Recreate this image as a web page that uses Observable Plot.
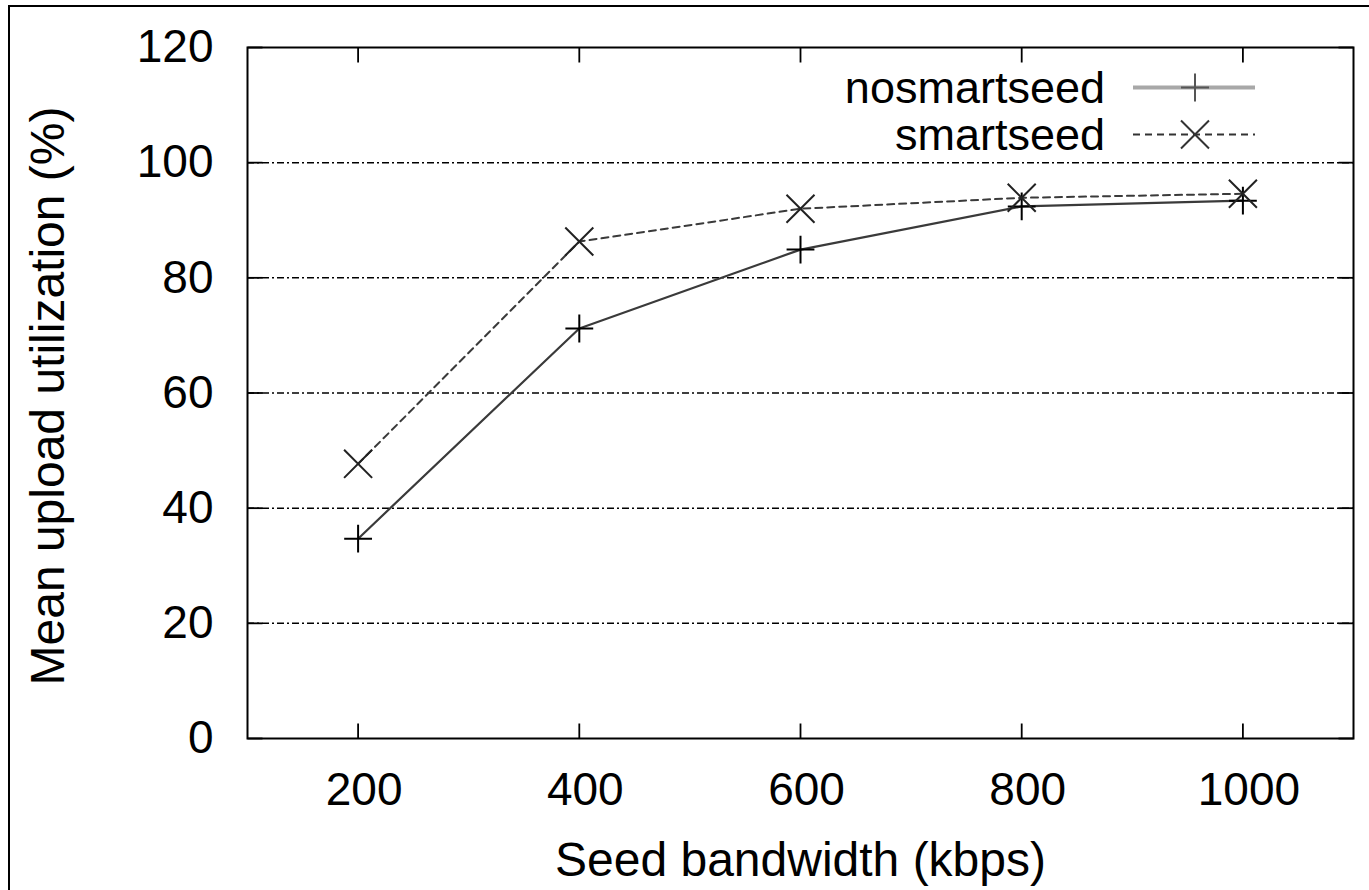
<!DOCTYPE html>
<html><head><meta charset="utf-8">
<script src="https://cdn.jsdelivr.net/npm/d3@7"></script>
<script src="https://cdn.jsdelivr.net/npm/@observablehq/plot@0.6"></script>
<style>
body{margin:0;background:#fff;}
#wrap{position:relative;width:1369px;height:890px;overflow:hidden;font-family:"Liberation Sans",Arial,sans-serif;}
#chart{position:absolute;left:0;top:0;}
#border{position:absolute;left:8px;top:5px;width:1400px;height:900px;border-left:2.5px solid #000;border-top:2.5px solid #000;pointer-events:none;}
#legend{position:absolute;left:700px;top:64px;}
.row{display:flex;align-items:center;height:47px;}
.row span{display:inline-block;width:405px;text-align:right;font-size:45px;line-height:46px;color:#000;}
.row svg{margin-left:28px;}
</style></head>
<body><div id="wrap"><div id="chart"></div><div id="border"></div><div id="legend"></div></div>
<script>
const bandwidth = [200, 400, 600, 800, 1000];
const nosmartseed = [34.7, 71.2, 84.9, 92.4, 93.4];
const smartseed = [47.7, 86.3, 92.0, 93.9, 94.6];
const seriesNames = ["nosmartseed", "smartseed"];
const xTicks = [200, 400, 600, 800, 1000];
const yTicks = [0, 20, 40, 60, 80, 100, 120];
const gridTicks = [20, 40, 60, 80, 100];
const xDomain = [100, 1100];
const yDomain = [0, 120];
const xLabel = "Seed bandwidth (kbps)";
const yLabel = "Mean upload utilization (%)";

const noData = bandwidth.map((b, i) => ({x: b, y: nosmartseed[i]}));
const smData = bandwidth.map((b, i) => ({x: b, y: smartseed[i]}));
const FS = 46, LFS = 48;
const W = 1369, H = 890, ML = 247, MR = 16, MT = 47, MB = 152;
const TL = 15; // inward tick length in px
const innerW = W - ML - MR, innerH = H - MT - MB;
const tx = (xDomain[1] - xDomain[0]) * TL / innerW;
const ty = (yDomain[1] - yDomain[0]) * TL / innerH;
const xTickRows = xTicks.map(v => ({v, lo: yDomain[0], hi: yDomain[0] + ty, lo2: yDomain[1] - ty, hi2: yDomain[1]}));
const yTickRows = yTicks.map(v => ({v, lo: xDomain[0], hi: xDomain[0] + tx, lo2: xDomain[1] - tx, hi2: xDomain[1]}));

const tickStyle = {stroke: "#000", strokeWidth: 1.8};
const plot = Plot.plot({
  width: W, height: H,
  marginLeft: ML, marginRight: MR, marginTop: MT, marginBottom: MB,
  style: {fontFamily: "Liberation Sans, Arial, sans-serif", fontSize: FS + "px", color: "#000", background: "transparent"},
  x: {domain: xDomain, ticks: xTicks},
  y: {domain: yDomain, ticks: yTicks},
  marks: [
    Plot.gridY(gridTicks, {stroke: "#000", strokeOpacity: 1, strokeWidth: 1.5, strokeDasharray: "7,3,2,3"}),
    Plot.axisX(xTicks, {anchor: "bottom", tickSize: 0, tickPadding: 34, dx: 6, label: null, fontSize: FS, tickFormat: d => String(d)}),
    Plot.axisY(yTicks, {anchor: "left", tickSize: 0, tickPadding: 34, label: null, fontSize: FS, tickFormat: d => String(d)}),
    Plot.link(xTickRows, {x1: "v", x2: "v", y1: "lo", y2: "hi", ...tickStyle}),
    Plot.link(xTickRows, {x1: "v", x2: "v", y1: "lo2", y2: "hi2", ...tickStyle}),
    Plot.link(yTickRows, {y1: "v", y2: "v", x1: "lo", x2: "hi", ...tickStyle}),
    Plot.link(yTickRows, {y1: "v", y2: "v", x1: "lo2", x2: "hi2", ...tickStyle}),
    Plot.frame({stroke: "#000", strokeWidth: 2}),
    Plot.line(noData, {x: "x", y: "y", stroke: "#3a3a3a", strokeWidth: 2.2}),
    Plot.line(smData, {x: "x", y: "y", stroke: "#3a3a3a", strokeWidth: 2, strokeDasharray: "7,5"}),
    Plot.dot(noData, {x: "x", y: "y", symbol: "plus", r: 9, stroke: "#000", strokeWidth: 2}),
    Plot.dot(smData, {x: "x", y: "y", symbol: "times", r: 12.8, stroke: "#222", strokeWidth: 2}),
    Plot.text([xLabel], {frameAnchor: "bottom", dy: 122, lineAnchor: "middle", textAnchor: "middle", fontSize: LFS, fill: "#000"}),
    Plot.text([yLabel], {frameAnchor: "left", dx: -199, dy: 3, rotate: -90, lineAnchor: "middle", textAnchor: "middle", fontSize: LFS, fill: "#000"})
  ]
});
document.getElementById("chart").appendChild(plot);

const legend = d3.select("#legend");
const styles = [
  {line: "#a8a8a8", width: 4, dash: null, symbol: d3.symbolPlus, size: 258, sym: "#555"},
  {line: "#333", width: 2, dash: "7,5", symbol: d3.symbolTimes, size: 513, sym: "#333"}
];
seriesNames.forEach((name, i) => {
  const row = legend.append("div").attr("class", "row");
  row.append("span").text(name);
  const s = styles[i];
  const svg = row.append("svg").attr("width", 124).attr("height", 47);
  svg.append("line").attr("x1", 0).attr("x2", 122).attr("y1", 23.5).attr("y2", 23.5)
    .attr("stroke", s.line).attr("stroke-width", s.width).attr("stroke-dasharray", s.dash);
  svg.append("path").attr("transform", "translate(62,23.5)")
    .attr("d", d3.symbol(s.symbol, s.size)()).attr("fill", "none")
    .attr("stroke", s.sym).attr("stroke-width", 2);
});
</script>
</body></html>
